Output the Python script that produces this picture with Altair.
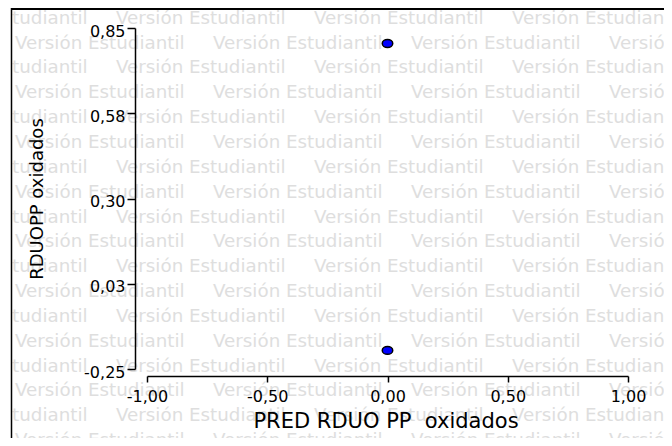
import json
import altair as alt
import pandas as pd

# ---- data ----
pred = [0.0, 0.0]
rduo = [0.80, -0.19]

x_ticks = [-1.0, -0.5, 0.0, 0.5, 1.0]
x_labels = ["-1,00", "-0,50", "0,00", "0,50", "1,00"]
y_ticks = [-0.25, 0.025, 0.30, 0.575, 0.85]
y_labels = ["-0,25", "0,03", "0,30", "0,58", "0,85"]

x_title = "PRED RDUO PP\u00a0 oxidados"
y_title = "RDUOPP oxidados"

wm_text = "Versión Estudiantil"
wm_rows = list(range(18))
wm_cols = list(range(-1, 4))

# ---- tables ----
pts = pd.DataFrame({"pred": pred, "rduo": rduo})
wm = pd.DataFrame([{"r": r, "c": c, "t": wm_text} for r in wm_rows for c in wm_cols])
one = pd.DataFrame({"k": [0]})

FONT = "DejaVu Sans"
W, H = 481, 341
L, T = 147, 28  # page position of plot origin (for decoration layout)


def lab_expr(vals, labs):
    return f"{json.dumps(labs)}[indexof({json.dumps(vals)}, datum.value)]"


def px(name):
    return alt.X(f"{name}:Q", scale=None, axis=None)


def py(name):
    return alt.Y(f"{name}:Q", scale=None, axis=None)


watermark = (
    alt.Chart(wm)
    .transform_calculate(
        px=f"(datum.r % 2 == 0 ? -82 : 15) + 198 * datum.c - {L}",
        py=f"23.7 + 24.85 * datum.r - {T}",
    )
    .mark_text(align="left", baseline="alphabetic", font=FONT, fontSize=18.3, color="#dedede")
    .encode(x=px("px"), y=py("py"), text="t:N")
)

mask = (
    alt.Chart(one)
    .transform_calculate(a=f"0 - {L}", b=f"11 - {L}", c=f"0 - {T}", d=f"446 - {T}")
    .mark_rect(color="white")
    .encode(x=px("a"), x2="b:Q", y=py("c"), y2="d:Q")
)

top_border = (
    alt.Chart(one)
    .transform_calculate(a=f"11 - {L}", b=f"672 - {L}", c=f"9 - {T}")
    .mark_rule(color="black", strokeWidth=2)
    .encode(x=px("a"), x2="b:Q", y=py("c"))
)

left_border = (
    alt.Chart(one)
    .transform_calculate(a=f"11.5 - {L}", c=f"8 - {T}", d=f"446 - {T}")
    .mark_rule(color="black", strokeWidth=1.5)
    .encode(x=px("a"), y=py("c"), y2="d:Q")
)

ellipse = "M -1 0 A 1 0.75 0 1 0 1 0 A 1 0.75 0 1 0 -1 0 Z"

points = (
    alt.Chart(pts)
    .mark_point(shape=ellipse, filled=True, fill="#0000ff", stroke="black",
                strokeWidth=1.5, size=110, opacity=1)
    .encode(
        x=alt.X(
            "pred:Q",
            scale=alt.Scale(domain=[-1, 1], nice=False, zero=False),
            axis=alt.Axis(
                values=x_ticks, labelExpr=lab_expr(x_ticks, x_labels),
                offset=7, tickSize=6, tickWidth=1.5, tickColor="black",
                domainWidth=1.5, domainColor="black", grid=False,
                labelFont=FONT, labelFontSize=16, labelColor="black",
                labelPadding=6, labelFlush=False, labelOverlap=False,
                title=x_title, titleFont=FONT, titleFontSize=21,
                titleFontWeight="normal", titleColor="black",
                titleX=238.5, titleY=51, titleBaseline="alphabetic",
                titleAlign="center", zindex=1,
            ),
        ),
        y=alt.Y(
            "rduo:Q",
            scale=alt.Scale(domain=[-0.25, 0.85], nice=False, zero=False),
            axis=alt.Axis(
                values=y_ticks, labelExpr=lab_expr(y_ticks, y_labels),
                offset=12, tickSize=8, tickWidth=1.5, tickColor="black",
                domainWidth=1.5, domainColor="black", grid=False,
                labelFont=FONT, labelFontSize=16, labelColor="black",
                labelPadding=2, labelOffset=3, labelFlush=False, labelOverlap=False,
                title=y_title, titleFont=FONT, titleFontSize=18,
                titleFontWeight="normal", titleColor="black",
                titleAngle=270, titleX=-98, titleY=170.5,
                titleBaseline="middle", titleAlign="center", zindex=1,
            ),
        ),
    )
)

chart = (
    alt.layer(watermark, mask, top_border, left_border, points)
    .resolve_scale(x="independent", y="independent")
    .properties(
        width=W, height=H,
        autosize=alt.AutoSizeParams(type="none"),
        padding={"left": 139, "top": 20, "right": 36, "bottom": 69},
        background="white",
    )
    .configure_view(stroke=None)
)

chart.save("out.html", embed_options={"renderer": "svg", "actions": False})
